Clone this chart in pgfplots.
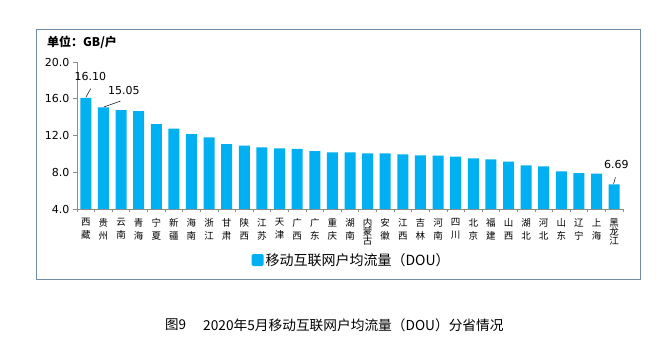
\documentclass[border=0pt]{standalone}
\usepackage{pgfplots}
\pgfplotsset{compat=1.18}
\usepackage{fontspec}
\setmainfont{DejaVu Sans}
\newfontfamily\cjk{Noto Sans CJK SC}
\definecolor{barc}{HTML}{00B0F0}
\definecolor{boxc}{HTML}{6F8CA8}
\definecolor{axc}{HTML}{8C8C8C}
\begin{document}
\begin{tikzpicture}[x=1pt,y=1pt]
\path[use as bounding box, fill=white] (0,0) rectangle (672,356);
\draw[boxc, line width=0.9pt] (36,77) rectangle (640,327);
\node[anchor=west, inner sep=0pt] at (47,314) {\cjk\bfseries\fontsize{12}{12}\selectfont 单位：GB/户};
\node[anchor=west, inner sep=0pt] at (165,31) {\cjk\fontsize{13.5}{13.5}\selectfont 图9};
\node[anchor=west, inner sep=0pt] at (203,31) {\cjk\fontsize{13.7}{13.7}\selectfont 2020年5月移动互联网户均流量（DOU）分省情况};
\begin{axis}[
  at={(77pt,147pt)}, anchor=south west, scale only axis,
  width=546pt, height=147pt,
  xmin=-0.5, xmax=30.5, ymin=4, ymax=20,
  ytick={4,8,12,16,20},
  /pgf/number format/assume math mode=true,
  yticklabel style={/pgf/number format/fixed, /pgf/number format/fixed zerofill, /pgf/number format/precision=1, font=\fontsize{11}{11}\selectfont},
  axis x line*=bottom, axis y line*=left,
  axis line style={axc, line width=0.8pt, -},
  tick style={axc, line width=0.7pt},
  tick align=outside,
  major tick length=4pt, minor tick length=3pt,
  xtick={0,...,30},
  x tick style={draw=none},
  minor xtick={-0.5,0.5,...,30.5},
  minor x tick style={draw=axc},
  xticklabels={{西\\藏},{贵\\州},{云\\南},{青\\海},{宁\\夏},{新\\疆},{海\\南},{浙\\江},{甘\\肃},{陕\\西},{江\\苏},{天\\津},{广\\西},{广\\东},{重\\庆},{湖\\南},{内\\[-4pt]蒙\\[-4pt]古},{安\\徽},{江\\西},{吉\\林},{河\\南},{四\\川},{北\\京},{福\\建},{山\\西},{湖\\北},{河\\北},{山\\东},{辽\\宁},{上\\海},{黑\\[-4pt]龙\\[-4pt]江}},
  xticklabel style={align=center, font=\cjk\fontsize{9.5}{13}\selectfont, yshift=-2pt},
  ybar, bar width=11pt,
  legend style={draw=none, fill=none, at={(0.503,-0.347)}, anchor=center, font=\cjk\fontsize{14}{15}\selectfont, inner sep=1pt},
  legend image code/.code={\fill[barc, rounded corners=1.5pt] (0pt,-6pt) rectangle (12pt,6pt);},
  clip=false,
]
\addplot[fill=barc, draw=none] coordinates {
(0,16.10) (1,15.05) (2,14.75) (3,14.65) (4,13.25) (5,12.75) (6,12.15) (7,11.8) (8,11.05) (9,10.9)
(10,10.7) (11,10.6) (12,10.55) (13,10.3) (14,10.15) (15,10.15) (16,10.05) (17,10.05) (18,9.95) (19,9.85)
(20,9.8) (21,9.7) (22,9.5) (23,9.4) (24,9.15) (25,8.75) (26,8.65) (27,8.1) (28,7.9) (29,7.85) (30,6.69)};
\addlegendentry{移动互联网户均流量（DOU）}
\node[font=\fontsize{11}{11}\selectfont] at (axis cs:0.26,18.4) {16.10};
\draw[black, line width=0.5pt] (axis cs:0.0,16.15) -- (axis cs:0.28,17.1);
\node[font=\fontsize{11}{11}\selectfont] at (axis cs:2.16,16.87) {15.05};
\draw[black, line width=0.5pt] (axis cs:1.02,15.1) -- (axis cs:1.97,15.75);
\node[font=\fontsize{11}{11}\selectfont] at (axis cs:30.12,8.85) {6.69};
\draw[black, line width=0.5pt] (axis cs:29.97,6.75) -- (axis cs:30.07,7.45);
\end{axis}
\end{tikzpicture}
\end{document}
